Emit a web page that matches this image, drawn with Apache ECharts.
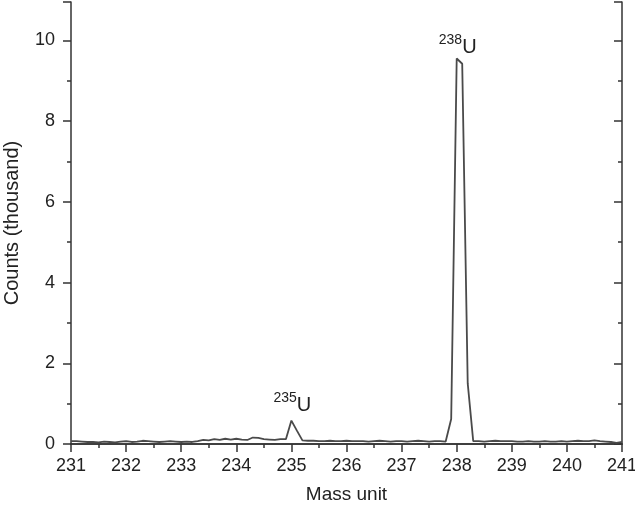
<!DOCTYPE html>
<html>
<head>
<meta charset="utf-8">
<script src="https://cdn.jsdelivr.net/npm/echarts@6/dist/echarts.min.js"></script>
<style>html,body{margin:0;padding:0;background:#fff}#c{width:635px;height:506px}</style>
</head>
<body>
<div id="c"></div>
<script>
const massUnits = [
  231.0,231.1,231.2,231.3,231.4,231.5,231.6,231.7,231.8,231.9,
  232.0,232.1,232.2,232.3,232.4,232.5,232.6,232.7,232.8,232.9,
  233.0,233.1,233.2,233.3,233.4,233.5,233.6,233.7,233.8,233.9,
  234.0,234.1,234.2,234.3,234.4,234.5,234.6,234.7,234.8,234.9,
  235.0,235.1,235.2,235.3,235.4,235.5,235.6,235.7,235.8,235.9,
  236.0,236.1,236.2,236.3,236.4,236.5,236.6,236.7,236.8,236.9,
  237.0,237.1,237.2,237.3,237.4,237.5,237.6,237.7,237.8,237.9,
  238.0,238.1,238.2,238.3,238.4,238.5,238.6,238.7,238.8,238.9,
  239.0,239.1,239.2,239.3,239.4,239.5,239.6,239.7,239.8,239.9,
  240.0,240.1,240.2,240.3,240.4,240.5,240.6,240.7,240.8,240.9,
  241.0
];
const countsThousand = [
  0.07,0.07,0.06,0.05,0.05,0.04,0.06,0.05,0.04,0.06,
  0.07,0.05,0.06,0.08,0.07,0.06,0.05,0.06,0.07,0.06,
  0.05,0.06,0.05,0.07,0.10,0.09,0.12,0.10,0.13,0.11,
  0.13,0.11,0.10,0.16,0.15,0.12,0.11,0.10,0.12,0.12,
  0.58,0.33,0.09,0.08,0.08,0.07,0.07,0.08,0.07,0.07,
  0.08,0.07,0.07,0.07,0.06,0.07,0.08,0.07,0.06,0.07,
  0.07,0.06,0.07,0.08,0.07,0.06,0.07,0.07,0.06,0.62,
  9.55,9.42,1.50,0.07,0.07,0.06,0.07,0.08,0.07,0.07,
  0.07,0.06,0.06,0.07,0.06,0.06,0.07,0.06,0.06,0.07,
  0.06,0.07,0.08,0.07,0.07,0.09,0.07,0.06,0.05,0.03,
  0.05
];
const xTicks = {min: 231, max: 241, interval: 1};
const yTicks = {min: 0, max: 10.95, interval: 2};
const peakLabels = [
  {mass: 235.0, value: 0.58, isotope: '235', element: 'U'},
  {mass: 238.0, value: 9.55, isotope: '238', element: 'U'}
];

const font = '"Liberation Sans", Arial, Helvetica, sans-serif';
const axisColor = '#333';
const lineW = 1.5;

const chart = echarts.init(document.getElementById('c'), null, {renderer: 'canvas'});
chart.setOption({
  animation: false,
  backgroundColor: '#fff',
  grid: {left: 71, right: 13, top: 2, bottom: 62, containLabel: false, outerBoundsMode: 'none'},
  xAxis: [{
    type: 'value', min: xTicks.min, max: xTicks.max, interval: xTicks.interval,
    name: 'Mass unit', nameLocation: 'middle', nameGap: 41,
    nameTextStyle: {fontFamily: font, fontSize: 19, color: '#222'},
    axisLine: {show: true, onZero: false, lineStyle: {color: axisColor, width: lineW}},
    axisTick: {show: true, inside: false, length: 8, lineStyle: {color: axisColor, width: lineW}},
    minorTick: {show: true, splitNumber: 2, length: 4, lineStyle: {color: axisColor, width: lineW}},
    axisLabel: {fontFamily: font, fontSize: 18, color: '#222', margin: 13},
    splitLine: {show: false}
  }, {
    type: 'value', position: 'top', min: xTicks.min, max: xTicks.max, interval: xTicks.interval,
    axisLine: {show: true, lineStyle: {color: axisColor, width: lineW}},
    axisTick: {show: true, inside: true, length: 8, lineStyle: {color: axisColor, width: lineW}},
    minorTick: {show: true, splitNumber: 2, length: 4, lineStyle: {color: axisColor, width: lineW}},
    axisLabel: {show: false}, splitLine: {show: false}
  }],
  yAxis: [{
    type: 'value', min: yTicks.min, max: yTicks.max, interval: yTicks.interval,
    name: 'Counts (thousand)', nameLocation: 'middle', nameGap: 49,
    nameTextStyle: {fontFamily: font, fontSize: 20, color: '#222'},
    axisLine: {show: true, onZero: false, lineStyle: {color: axisColor, width: lineW}},
    axisTick: {show: true, inside: false, length: 8, lineStyle: {color: axisColor, width: lineW}},
    minorTick: {show: true, splitNumber: 2, length: 4, lineStyle: {color: axisColor, width: lineW}},
    axisLabel: {fontFamily: font, fontSize: 18, color: '#222', margin: 16, showMaxLabel: false},
    splitLine: {show: false}
  }, {
    type: 'value', position: 'right', min: yTicks.min, max: yTicks.max, interval: yTicks.interval,
    axisLine: {show: true, lineStyle: {color: axisColor, width: lineW}},
    axisTick: {show: true, inside: true, length: 8, lineStyle: {color: axisColor, width: lineW}},
    minorTick: {show: true, splitNumber: 2, length: 4, lineStyle: {color: axisColor, width: lineW}},
    axisLabel: {show: false}, splitLine: {show: false}
  }],
  series: [{
    type: 'line',
    xAxisIndex: 0, yAxisIndex: 0,
    data: massUnits.map((m, i) => [m, countsThousand[i]]),
    showSymbol: false, symbol: 'none',
    lineStyle: {color: '#4a4a4a', width: 1.8},
    markPoint: {
      symbol: 'circle', symbolSize: 0,
      data: peakLabels.map(p => ({
        coord: [p.mass, p.value],
        label: {
          show: true, position: 'top', distance: p.value > 5 ? 1 : 5, offset: [1, 0],
          formatter: '{s|' + p.isotope + '}{u|' + p.element + '}',
          rich: {
            s: {fontFamily: font, fontSize: 14, color: '#222', lineHeight: 24, verticalAlign: 'top'},
            u: {fontFamily: font, fontSize: 20, color: '#222', lineHeight: 24, verticalAlign: 'bottom'}
          }
        }
      }))
    }
  }]
});
</script>
</body>
</html>
